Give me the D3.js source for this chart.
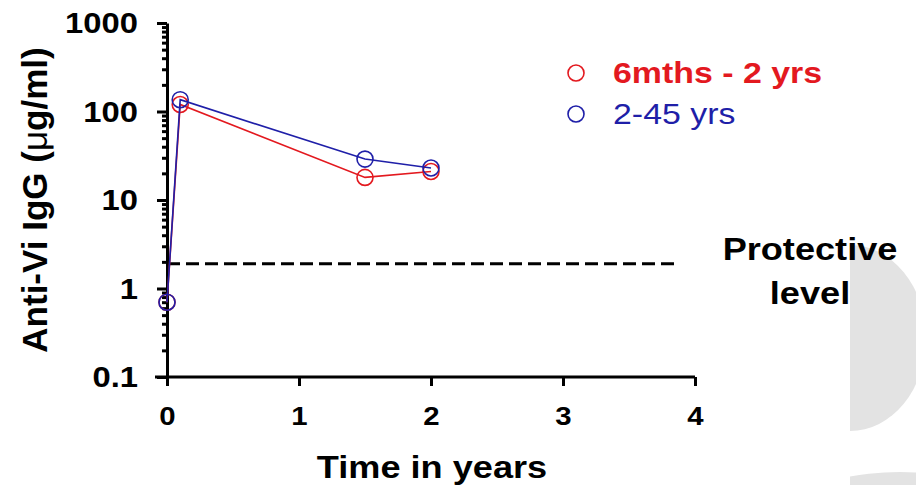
<!DOCTYPE html>
<html>
<head>
<meta charset="utf-8">
<script src="https://cdn.jsdelivr.net/npm/d3@7"></script>
<style>
  body { margin: 0; background: #fff; }
  svg { display: block; font-family: Arial, "Liberation Sans", sans-serif; }
  .axis path, .axis line { stroke: #000; stroke-width: 3; }
</style>
</head>
<body>
<svg id="chart"></svg>
<script>
/* global d3 */

// data
var times = [0, 0.1, 1.5, 2];
var young = [0.7, 120, 18, 21];      // 6mths - 2 yrs
var older = [0.7, 136, 29, 23];      // 2-45 yrs
var protective = 1.9;
var protectiveEnd = 3.88;
var xTicks = [0, 1, 2, 3, 4];
var yMajor = [0.1, 1, 10, 100, 1000];
var yLabels = ["0.1", "1", "10", "100", "1000"];
var seriesNames = ["6mths - 2 yrs", "2-45 yrs"];

var width = 916, height = 485,
  sx = 1.13; // the picture is a little wider than the fonts

var svg = d3.select("#chart")
  .attr("width", width)
  .attr("height", height);

// grey slide decoration on the right
svg.append("clipPath").attr("id", "deco")
  .append("rect").attr("x", 850).attr("y", 0).attr("width", 80).attr("height", height);
svg.append("ellipse")
  .attr("clip-path", "url(#deco)")
  .attr("cx", 850).attr("cy", 338).attr("rx", 76).attr("ry", 93)
  .attr("fill", "#e3e3e3");
svg.append("ellipse")
  .attr("clip-path", "url(#deco)")
  .attr("cx", 900).attr("cy", 560).attr("rx", 160).attr("ry", 88)
  .attr("fill", "#e3e3e3");

var x = d3.scaleLinear().domain([0, 4]).range([167, 695]);
var y = d3.scaleLog().domain([0.1, 1000]).range([377, 23]);

var yMinor = [];
yMajor.slice(0, -1).forEach(function (d) {
  for (var k = 2; k < 10; k++) yMinor.push(d * k);
});

// y axis : minor ticks then major ticks with labels
svg.append("g")
  .attr("class", "axis")
  .attr("transform", "translate(" + x(0) + ",0)")
  .call(d3.axisLeft(y).tickValues(yMinor).tickSize(5).tickSizeOuter(0).tickFormat(""));

var gy = svg.append("g")
  .attr("class", "axis")
  .attr("transform", "translate(" + x(0) + ",0)")
  .call(d3.axisLeft(y).tickValues(yMajor).tickSize(10).tickSizeOuter(0)
    .tickFormat(function (d, i) { return yLabels[i]; }));
gy.select(".domain").remove();
gy.selectAll("text")
  .attr("x", 0).attr("dy", null)
  .attr("dominant-baseline", "central")
  .attr("transform", function () { return "translate(-29,0) scale(" + sx + ",1)"; })
  .style("font-size", "29px").style("font-weight", "bold").attr("fill", "#000");

// x axis
var gx = svg.append("g")
  .attr("class", "axis")
  .attr("transform", "translate(0," + y(0.1) + ")")
  .call(d3.axisBottom(x).tickValues(xTicks).tickSize(9).tickSizeOuter(0).tickFormat(d3.format("d")));
gx.select(".domain").attr("d", "M" + (x(0) - 12) + ",0H" + x(4));
gx.selectAll("text")
  .attr("y", 0).attr("dy", null)
  .attr("transform", "translate(0,48) scale(" + sx + ",1)")
  .style("font-size", "26px").style("font-weight", "bold").attr("fill", "#000");

// axis titles
svg.append("text")
  .attr("transform", "translate(" + (x(2) + 1) + ",478) scale(" + sx + ",1)")
  .attr("text-anchor", "middle")
  .style("font-size", "32px").style("font-weight", "bold")
  .text("Time in years");

var yt = svg.append("text")
  .attr("transform", "translate(47,200) rotate(-90)")
  .attr("text-anchor", "middle")
  .style("font-size", "35px").style("font-weight", "bold");
yt.append("tspan").text("Anti-Vi IgG (");
yt.append("tspan").style("font-weight", "normal").text("μ");
yt.append("tspan").text("g/ml)");

// protective level
svg.append("line")
  .attr("x1", x(0)).attr("x2", x(protectiveEnd))
  .attr("y1", y(protective)).attr("y2", y(protective))
  .attr("stroke", "#000").attr("stroke-width", 3)
  .attr("stroke-dasharray", "13,6");

var pl = svg.append("g").attr("transform", "translate(810,0) scale(" + sx + ",1)");
pl.append("text").attr("y", 260).attr("text-anchor", "middle")
  .style("font-size", "32px").style("font-weight", "bold").text("Protective");
pl.append("text").attr("y", 304).attr("text-anchor", "middle")
  .style("font-size", "32px").style("font-weight", "bold").text("level");

// series
var series = [
  { name: seriesNames[0], values: young, color: "#e3191f", bold: true },
  { name: seriesNames[1], values: older, color: "#1f1fa8", bold: false }
];

var line = d3.line()
  .x(function (d) { return x(d[0]); })
  .y(function (d) { return y(d[1]); });

series.forEach(function (s) {
  var pts = times.map(function (t, i) { return [t, s.values[i]]; });
  svg.append("path")
    .datum(pts)
    .attr("fill", "none")
    .attr("stroke", s.color)
    .attr("stroke-width", 1.6)
    .attr("d", line);
  svg.selectAll(null)
    .data(pts)
    .enter().append("circle")
    .attr("cx", function (d) { return x(d[0]); })
    .attr("cy", function (d) { return y(d[1]); })
    .attr("r", 8)
    .attr("fill", "none")
    .attr("stroke", s.color)
    .attr("stroke-width", 1.6);
});

// legend
var legend = svg.append("g").attr("class", "legend");
series.forEach(function (s, i) {
  var ly = 73 + i * 41;
  legend.append("circle")
    .attr("cx", 576).attr("cy", ly).attr("r", 8)
    .attr("fill", "none").attr("stroke", s.color).attr("stroke-width", 1.6);
  legend.append("text")
    .attr("transform", "translate(613," + (ly + 10) + ") scale(" + sx + ",1)")
    .style("font-size", "30px")
    .style("font-weight", s.bold ? "bold" : "normal")
    .attr("fill", s.color)
    .text(s.name);
});
</script>
</body>
</html>
